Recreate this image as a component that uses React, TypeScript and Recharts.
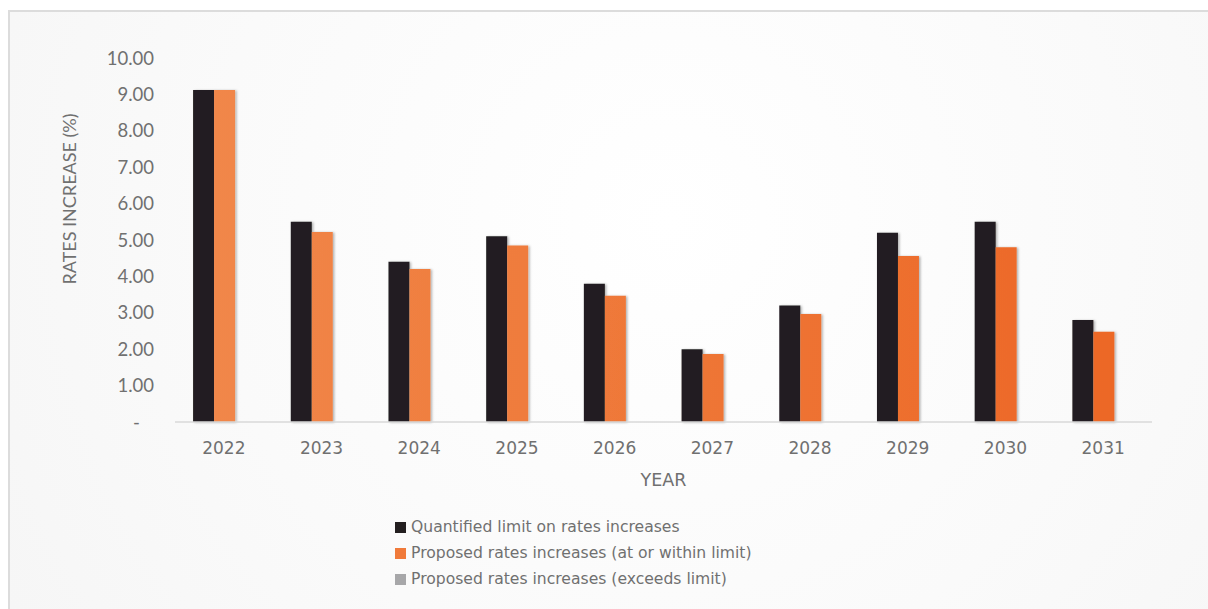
import { Bar, BarChart, Label, Legend, XAxis, YAxis } from 'recharts';

const YEARS = ['2022', '2023', '2024', '2025', '2026', '2027', '2028', '2029', '2030', '2031'];
const QUANTIFIED_LIMIT = [9.12, 5.5, 4.4, 5.1, 3.8, 2.0, 3.2, 5.2, 5.5, 2.8];
const PROPOSED_WITHIN = [9.12, 5.22, 4.2, 4.85, 3.47, 1.87, 2.97, 4.56, 4.8, 2.48];
const PROPOSED_EXCEEDS: (number | null)[] = [null, null, null, null, null, null, null, null, null, null];
const Y_TICKS = [0, 1, 2, 3, 4, 5, 6, 7, 8, 9, 10];

const SERIES = [
  { key: 'limit', label: 'Quantified limit on rates increases', color: '#231f20' },
  { key: 'within', label: 'Proposed rates increases (at or within limit)', color: '#f07a3a' },
  { key: 'exceeds', label: 'Proposed rates increases (exceeds limit)', color: '#a7a7a9' },
];

const data = YEARS.map((year, i) => ({
  year,
  limit: QUANTIFIED_LIMIT[i],
  within: PROPOSED_WITHIN[i],
  exceeds: PROPOSED_EXCEEDS[i],
}));

const GRAY = '#707070';
const WIDE_FONT = '"DejaVu Sans", sans-serif';

const fmtY = (v: number) => (v === 0 ? '-\u00a0\u00a0\u00a0' : v.toFixed(2));

const YLabel = (props: any) => {
  const vb = props.viewBox || { x: 65, y: 46, width: 100, height: 364 };
  const x = vb.x - 6;
  const y = vb.y + vb.height / 2 - 41;
  return (
    <text
      x={x}
      y={y}
      transform={`rotate(-90, ${x}, ${y})`}
      textAnchor="middle"
      dominantBaseline="central"
      fill={GRAY}
      style={{ fontFamily: 'Lato, sans-serif', fontSize: 18 }}
    >
      RATES INCREASE (%)
    </text>
  );
};

const XLabel = (props: any) => {
  const vb = props.viewBox || { x: 165, y: 410, width: 977, height: 30 };
  return (
    <text
      x={vb.x + vb.width / 2}
      y={vb.y + 58}
      textAnchor="middle"
      dominantBaseline="central"
      fill={GRAY}
      style={{ fontFamily: WIDE_FONT, fontSize: 17.5 }}
    >
      YEAR
    </text>
  );
};

const LegendList = () => (
  <div style={{ fontFamily: WIDE_FONT, fontSize: 15.6, color: GRAY }}>
    {SERIES.map((s) => (
      <div key={s.key} style={{ display: 'flex', alignItems: 'center', height: 26, whiteSpace: 'nowrap' }}>
        <span style={{ width: 11, height: 11, background: s.color, marginRight: 5, display: 'inline-block' }} />
        <span>{s.label}</span>
      </div>
    ))}
  </div>
);

export default function App() {
  return (
    <>
      <style>{'html, body { overflow: hidden; }'}</style>
      <div
        style={{
          position: 'absolute',
          left: 8,
          top: 10,
          width: 1198,
          height: 597,
          overflow: 'hidden',
          borderTop: '2px solid #dcdcdc',
          borderLeft: '2px solid #dcdcdc',
          background: 'radial-gradient(circle at 55% 35%, #ffffff 0%, #fafafa 60%, #f6f6f6 100%)',
        }}
      >
        <BarChart
          width={1198}
          height={597}
          data={data}
          margin={{ top: 46, right: 56, left: 65, bottom: 157 }}
          barGap={0}
          barCategoryGap="18.5%"
        >
          <defs>
            <linearGradient id="orangeGrad" gradientUnits="userSpaceOnUse" x1="165" y1="0" x2="1142" y2="0">
              <stop offset="0%" stopColor="#f1884b" />
              <stop offset="100%" stopColor="#ec6624" />
            </linearGradient>
            <filter id="barShadow" x="-20%" y="-5%" width="150%" height="115%">
              <feDropShadow dx="1.5" dy="0.5" stdDeviation="1.2" floodColor="#000" floodOpacity="0.3" />
            </filter>
          </defs>
          <XAxis
            dataKey="year"
            height={30}
            tickSize={0}
            tickMargin={20}
            axisLine={{ stroke: '#d9d9d9', strokeWidth: 1.5 }}
            tick={{ fill: GRAY, fontSize: 17, fontFamily: WIDE_FONT }}
          >
            <Label content={XLabel} />
          </XAxis>
          <YAxis
            width={100}
            domain={[0, 10]}
            ticks={Y_TICKS}
            tickFormatter={fmtY}
            axisLine={false}
            tickLine={false}
            tickSize={0}
            tickMargin={21}
            interval={0}
            tick={{ fill: GRAY, fontSize: 18.5, fontFamily: 'Lato, sans-serif' }}
          >
            <Label content={YLabel} />
          </YAxis>
          <Legend
            layout="vertical"
            align="center"
            verticalAlign="middle"
            content={<LegendList />}
            wrapperStyle={{ left: 385, top: 502, width: 460, height: 80 }}
          />
          <Bar dataKey="limit" name={SERIES[0].label} fill={SERIES[0].color} filter="url(#barShadow)" isAnimationActive={false} />
          <Bar dataKey="within" name={SERIES[1].label} fill="url(#orangeGrad)" filter="url(#barShadow)" isAnimationActive={false} />
          <Bar dataKey="exceeds" name={SERIES[2].label} fill={SERIES[2].color} isAnimationActive={false} />
        </BarChart>
      </div>
    </>
  );
}
